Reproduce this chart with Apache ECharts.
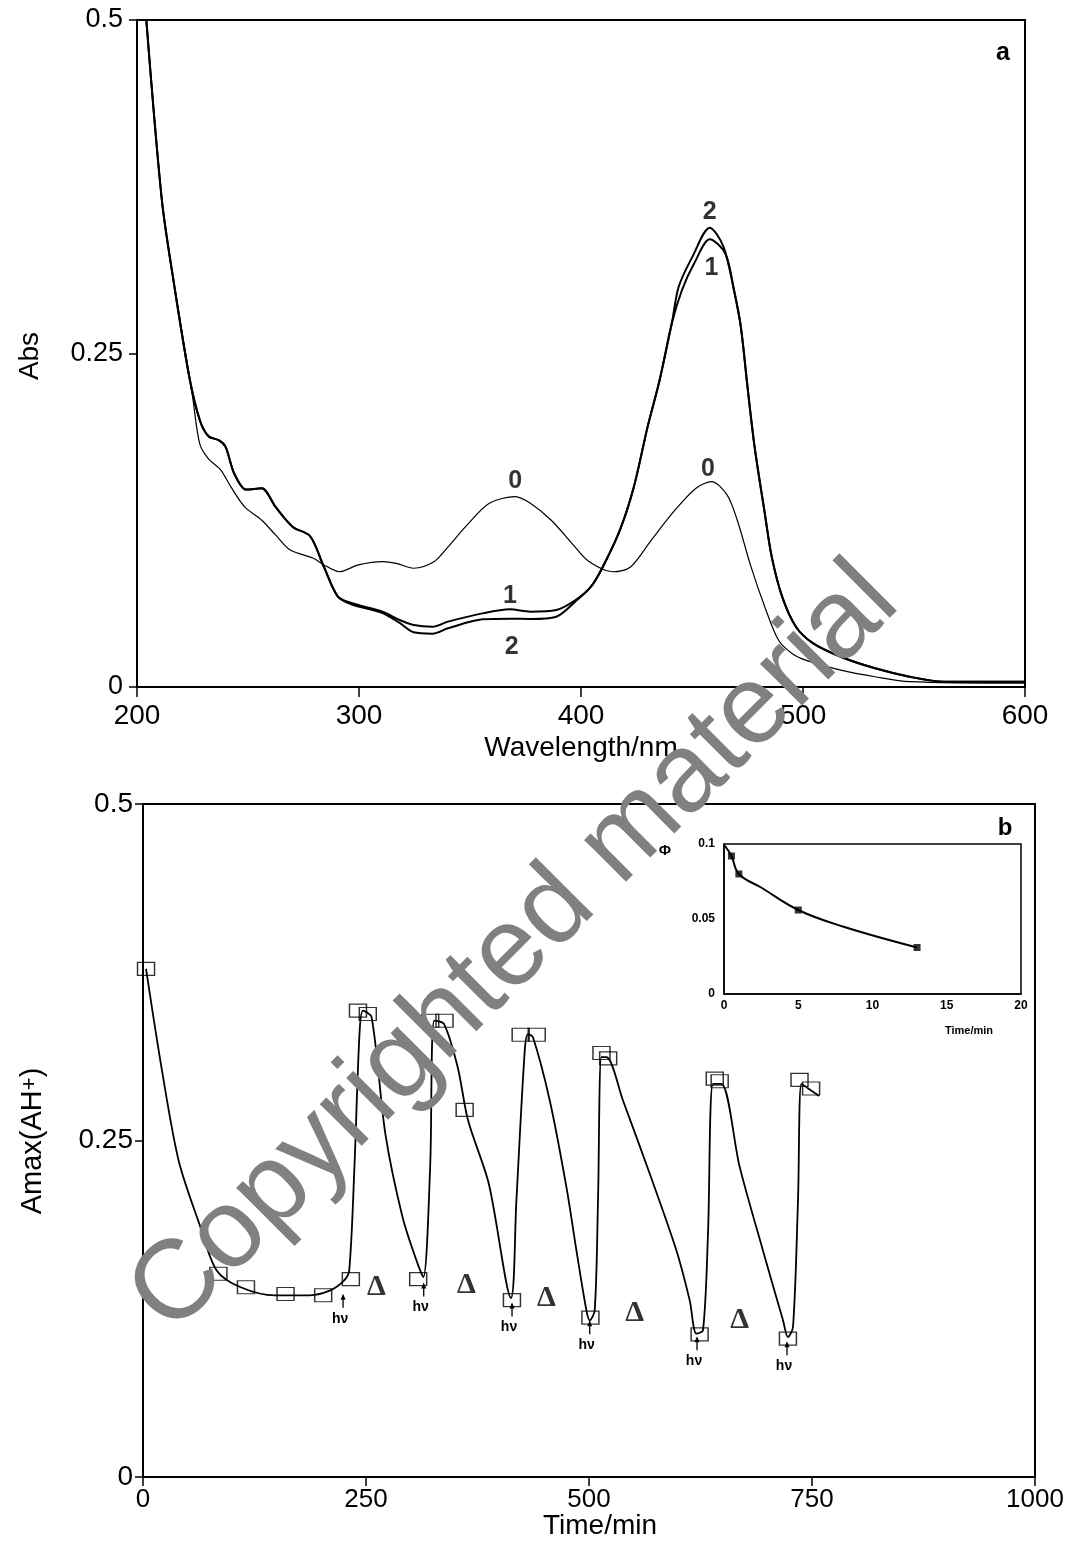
<!DOCTYPE html>
<html>
<head>
<meta charset="utf-8">
<script src="https://cdn.jsdelivr.net/npm/echarts@6/dist/echarts.min.js"></script>
<style>
  html, body { margin: 0; padding: 0; background: #fff; }
  #chart { width: 1070px; height: 1554px; }
</style>
</head>
<body>
<div id="chart"></div>
<script>
// ---- panel a: absorption spectra (wavelength in nm, absorbance) ----
const wl0 = [204.2, 211.2, 216.6, 222.9, 225.0, 228.3, 232.2, 237.6, 242.3, 248.5, 256.2, 262.4, 268.7, 274.9, 279.5, 284.2, 291.2, 299.7, 310.6, 316.8, 324.6, 333.9, 340.1, 347.9, 358.7, 370.4, 377.2, 386.6, 395.9, 403.6, 414.5, 422.3, 431.6, 442.4, 451.8, 458.8, 465.8, 470.4, 476.6, 482.8, 489.0, 495.2, 501.5, 517.0, 532.5, 548.0, 600.0];
const abs0 = [0.500, 0.365, 0.303, 0.240, 0.218, 0.182, 0.171, 0.163, 0.150, 0.135, 0.125, 0.114, 0.103, 0.099, 0.0965, 0.0915, 0.0864, 0.0915, 0.094, 0.0927, 0.089, 0.094, 0.105, 0.120, 0.1377, 0.1427, 0.1377, 0.125, 0.1077, 0.094, 0.0864, 0.090, 0.110, 0.1327, 0.149, 0.154, 0.144, 0.125, 0.090, 0.060, 0.035, 0.025, 0.020, 0.0127, 0.0077, 0.004, 0.0028];

const wl1 = [204.2, 211.2, 216.6, 223.6, 228.3, 232.2, 236.8, 239.9, 243.8, 249.2, 256.2, 262.4, 270.2, 278.0, 284.2, 290.4, 296.6, 310.6, 318.3, 324.6, 333.1, 340.1, 355.6, 368.0, 377.2, 388.9, 397.4, 404.4, 409.8, 417.6, 423.8, 430.0, 435.4, 440.9, 445.5, 451.0, 458.0, 465.0, 468.9, 472.0, 475.0, 478.2, 482.8, 485.9, 490.6, 496.8, 504.6, 517.0, 532.5, 548.0, 563.6, 600.0];
const abs1 = [0.500, 0.365, 0.303, 0.232, 0.200, 0.188, 0.185, 0.180, 0.160, 0.148, 0.149, 0.135, 0.120, 0.113, 0.090, 0.068, 0.063, 0.0565, 0.0502, 0.0465, 0.0452, 0.049, 0.0552, 0.0582, 0.0565, 0.0577, 0.065, 0.075, 0.090, 0.118, 0.150, 0.195, 0.230, 0.2726, 0.2976, 0.3176, 0.3356, 0.325, 0.2976, 0.270, 0.225, 0.180, 0.130, 0.0977, 0.0677, 0.0452, 0.0327, 0.0227, 0.014, 0.0077, 0.004, 0.004];

const wl2 = [204.2, 211.2, 216.6, 223.6, 228.3, 232.2, 236.8, 239.9, 243.8, 249.2, 256.2, 262.4, 270.2, 278.0, 284.2, 290.4, 296.6, 310.6, 318.3, 324.6, 333.1, 340.1, 355.6, 368.0, 377.2, 388.9, 397.4, 404.4, 409.8, 417.6, 423.8, 430.0, 435.4, 440.9, 444.0, 450.2, 458.0, 464.2, 468.9, 472.0, 475.0, 478.2, 482.8, 485.9, 490.6, 496.8, 504.6, 517.0, 532.5, 548.0, 563.6, 600.0];
const abs2 = [0.500, 0.365, 0.303, 0.232, 0.200, 0.188, 0.185, 0.180, 0.160, 0.148, 0.149, 0.135, 0.120, 0.113, 0.090, 0.068, 0.062, 0.0555, 0.048, 0.041, 0.040, 0.044, 0.0507, 0.0512, 0.051, 0.0527, 0.064, 0.075, 0.090, 0.118, 0.150, 0.195, 0.230, 0.2726, 0.300, 0.3226, 0.3443, 0.330, 0.2976, 0.270, 0.225, 0.180, 0.130, 0.0977, 0.0677, 0.0452, 0.0327, 0.0227, 0.014, 0.0077, 0.004, 0.004];

// curve numbers written on panel a: [nm, abs, text]
const specLabels = [[370.4, 0.154, '0'], [368.0, 0.068, '1'], [368.8, 0.030, '2'], [458.0, 0.356, '2'], [458.8, 0.314, '1'], [457.2, 0.163, '0']];

// ---- panel b: Amax(AH+) against time (min) ----
const sqTime = [3.4, 84.5, 115.4, 159.8, 202, 233, 241, 252, 308.5, 322, 338, 360.6, 413.6, 423.4, 441.4, 501.6, 514, 521.5, 624, 641, 646.5, 723, 736, 749];
const sqAbs = [0.3775, 0.151, 0.141, 0.136, 0.135, 0.147, 0.3465, 0.344, 0.147, 0.339, 0.339, 0.2728, 0.1314, 0.3286, 0.3286, 0.1184, 0.315, 0.311, 0.106, 0.296, 0.294, 0.1028, 0.295, 0.2886];

const curveTime = [3.4, 20.7, 40, 63.2, 82.6, 109.5, 148.2, 186.9, 210, 225.5, 231.2, 237, 242.7, 246.6, 256.3, 271.7, 291, 306.5, 314.2, 321.9, 326.6, 337.4, 352.8, 364.4, 387.6, 412.5, 418.6, 428, 431.6, 437.2, 456, 474.7, 485.9, 497.1, 500.8, 506.4, 510.1, 513.9, 519.5, 538.1, 568.1, 598, 612.9, 620.4, 627.8, 633.4, 639, 648.4, 669, 695, 717.5, 723, 728.7, 734.3, 738.1, 745, 758];
const curveAbs = [0.3775, 0.3044, 0.235, 0.188, 0.1535, 0.141, 0.135, 0.135, 0.1386, 0.146, 0.1535, 0.230, 0.329, 0.3465, 0.3415, 0.255, 0.193, 0.161, 0.1485, 0.230, 0.339, 0.3366, 0.3044, 0.265, 0.218, 0.133, 0.2055, 0.317, 0.329, 0.3267, 0.2797, 0.2153, 0.1683, 0.1238, 0.1164, 0.1238, 0.2054, 0.3119, 0.3119, 0.2797, 0.2253, 0.1683, 0.1312, 0.1065, 0.109, 0.1807, 0.2921, 0.2921, 0.2302, 0.1683, 0.1164, 0.104, 0.1114, 0.2054, 0.2921, 0.289, 0.283];

// irradiation marks (arrow tip) and thermal steps
const hvTime = [224.3, 314.7, 413.7, 500.8, 621.1, 722];
const hvAbs = [0.1361, 0.1445, 0.1297, 0.1164, 0.1045, 0.1008];
const deltaTime = [261.7, 362.6, 452.2, 551.2, 669];
const deltaAbs = [0.1411, 0.1423, 0.1325, 0.1213, 0.1163];

// inset: quantum yield vs time
const insetTime = [0.5, 1, 5, 13];
const insetPhi = [0.092, 0.080, 0.056, 0.031];
const insetCurveTime = [0.05, 0.5, 1, 2.5, 5, 8, 13];
const insetCurvePhi = [0.099, 0.092, 0.080, 0.071, 0.056, 0.045, 0.031];

const zip = (a, b) => a.map((v, i) => [v, b[i]]);
const FONT = 'Liberation Sans';

const chart = echarts.init(document.getElementById('chart'));

const axisCommon = {
  axisLine: { show: true, onZero: false, lineStyle: { color: '#000', width: 2 } },
  axisTick: { show: true, inside: false, length: 8, lineStyle: { color: '#000', width: 1.5 } },
  splitLine: { show: false },
  axisLabel: { color: '#000', fontFamily: FONT, fontSize: 27, formatter: v => String(v) }
};

chart.setOption({
  animation: false,
  backgroundColor: '#fff',
  grid: [
    { left: 137, top: 20, width: 888, height: 667, show: true, borderColor: '#000', borderWidth: 2 },
    { left: 143, top: 804, width: 892, height: 673, show: true, borderColor: '#000', borderWidth: 2 },
    { left: 724, top: 844, width: 297, height: 150, show: true, borderColor: '#000', borderWidth: 1.5, backgroundColor: '#fff', z: 5 }
  ],
  xAxis: [
    Object.assign({}, axisCommon, { gridIndex: 0, type: 'value', min: 200, max: 600, interval: 100,
      axisTick: { show: true, length: 10, lineStyle: { color: '#000', width: 1.5 } },
      axisLabel: Object.assign({}, axisCommon.axisLabel, { margin: 15, fontSize: 28 }) }),
    Object.assign({}, axisCommon, { gridIndex: 1, type: 'value', min: 0, max: 1000, interval: 250,
      axisTick: { show: true, length: 9, lineStyle: { color: '#000', width: 1.5 } },
      axisLabel: Object.assign({}, axisCommon.axisLabel, { margin: 10, fontSize: 26 }) }),
    { gridIndex: 2, type: 'value', min: 0, max: 20, interval: 5, z: 6,
      axisLine: { show: true, onZero: false, lineStyle: { color: '#000', width: 1.5 } },
      axisTick: { show: false }, splitLine: { show: false },
      axisLabel: { color: '#000', fontFamily: FONT, fontSize: 12, fontWeight: 'bold', margin: 6 } }
  ],
  yAxis: [
    Object.assign({}, axisCommon, { gridIndex: 0, type: 'value', min: 0, max: 0.5, interval: 0.25,
      axisLabel: Object.assign({}, axisCommon.axisLabel, { margin: 14 }) }),
    Object.assign({}, axisCommon, { gridIndex: 1, type: 'value', min: 0, max: 0.5, interval: 0.25,
      axisLabel: Object.assign({}, axisCommon.axisLabel, { margin: 10, fontSize: 28 }) }),
    { gridIndex: 2, type: 'value', min: 0, max: 0.1, interval: 0.05, z: 6,
      axisLine: { show: true, onZero: false, lineStyle: { color: '#000', width: 1.5 } },
      axisTick: { show: false }, splitLine: { show: false },
      axisLabel: { color: '#000', fontFamily: FONT, fontSize: 12, fontWeight: 'bold', margin: 9 } }
  ],
  series: [
    { type: 'line', xAxisIndex: 0, yAxisIndex: 0, data: zip(wl0, abs0), smooth: 0.3, symbol: 'none',
      lineStyle: { color: '#000', width: 1.2 } },
    { type: 'line', xAxisIndex: 0, yAxisIndex: 0, data: zip(wl1, abs1), smooth: 0.3, symbol: 'none',
      lineStyle: { color: '#000', width: 2 } },
    { type: 'line', xAxisIndex: 0, yAxisIndex: 0, data: zip(wl2, abs2), smooth: 0.3, symbol: 'none',
      lineStyle: { color: '#000', width: 2 } },
    { type: 'scatter', xAxisIndex: 0, yAxisIndex: 0, data: specLabels, symbolSize: 0, silent: true,
      label: { show: true, position: 'inside', formatter: p => p.value[2], color: '#000',
        fontFamily: FONT, fontSize: 25, fontWeight: 'bold' } },

    { type: 'line', xAxisIndex: 1, yAxisIndex: 1, data: zip(curveTime, curveAbs), smooth: 0.3,
      symbol: 'none', lineStyle: { color: '#000', width: 1.8 } },
    { type: 'scatter', xAxisIndex: 1, yAxisIndex: 1, data: zip(sqTime, sqAbs), symbol: 'rect', symbolSize: [17, 13],
      itemStyle: { color: 'rgba(0,0,0,0)', borderColor: '#000', borderWidth: 1.3 } },
    { type: 'custom', xAxisIndex: 1, yAxisIndex: 1, data: zip(hvTime, hvAbs), silent: true,
      renderItem: (params, api) => {
        const p = api.coord([api.value(0), api.value(1)]);
        return { type: 'group', children: [
          { type: 'line', shape: { x1: p[0], y1: p[1] + 2, x2: p[0], y2: p[1] + 14 }, style: { stroke: '#000', lineWidth: 1.3 } },
          { type: 'polygon', shape: { points: [[p[0], p[1]], [p[0] - 2.5, p[1] + 6], [p[0] + 2.5, p[1] + 6]] }, style: { fill: '#000' } },
          { type: 'text', x: p[0] - 3, y: p[1] + 25, style: { text: 'hν', font: 'bold 14px ' + FONT,
            textAlign: 'center', textVerticalAlign: 'middle', fill: '#000' } }
        ] };
      } },
    { type: 'scatter', xAxisIndex: 1, yAxisIndex: 1, data: zip(deltaTime, deltaAbs), symbolSize: 0, silent: true,
      label: { show: true, position: 'inside', formatter: 'Δ', color: '#000',
        fontFamily: 'Liberation Serif', fontSize: 30, fontWeight: 'bold' } },

    { type: 'line', xAxisIndex: 2, yAxisIndex: 2, data: zip(insetCurveTime, insetCurvePhi), smooth: 0.4, symbol: 'none', z: 7,
      lineStyle: { color: '#000', width: 2 } },
    { type: 'scatter', xAxisIndex: 2, yAxisIndex: 2, data: zip(insetTime, insetPhi), symbol: 'rect', symbolSize: 7, z: 8,
      itemStyle: { color: '#000' } }
  ],
  graphic: [
    { type: 'text', x: 30, y: 356, rotation: Math.PI / 2,
      style: { text: 'Abs', font: '28px ' + FONT, fill: '#000', textAlign: 'center', textVerticalAlign: 'middle' } },
    { type: 'text', x: 581, y: 748,
      style: { text: 'Wavelength/nm', font: '28px ' + FONT, fill: '#000', textAlign: 'center', textVerticalAlign: 'middle' } },
    { type: 'text', x: 1003, y: 53,
      style: { text: 'a', font: 'bold 25px ' + FONT, fill: '#000', textAlign: 'center', textVerticalAlign: 'middle' } },
    { type: 'text', x: 33, y: 1141, rotation: Math.PI / 2,
      style: { text: '{m|Amax(AH}{s|+}{m|)}', fill: '#000', textAlign: 'center', textVerticalAlign: 'middle',
        rich: { m: { fontFamily: FONT, fontSize: 29, fill: '#000' },
                s: { fontFamily: FONT, fontSize: 22, verticalAlign: 'top', fill: '#000' } } } },
    { type: 'text', x: 600, y: 1526,
      style: { text: 'Time/min', font: '28px ' + FONT, fill: '#000', textAlign: 'center', textVerticalAlign: 'middle' } },
    { type: 'text', x: 1005, y: 828,
      style: { text: 'b', font: 'bold 24px ' + FONT, fill: '#000', textAlign: 'center', textVerticalAlign: 'middle' } },
    { type: 'text', x: 665, y: 851, z: 10,
      style: { text: 'Φ', font: 'bold 15px ' + FONT, fill: '#000', textAlign: 'center', textVerticalAlign: 'middle' } },
    { type: 'text', x: 969, y: 1031, z: 10,
      style: { text: 'Time/min', font: 'bold 11px ' + FONT, fill: '#000', textAlign: 'center', textVerticalAlign: 'middle' } },
    { type: 'text', x: 515, y: 949, rotation: Math.PI / 4, z: 100,
      style: { text: 'Copyrighted material', font: '112px ' + FONT, fill: '#808080', textAlign: 'center', textVerticalAlign: 'middle' } }
  ]
});
</script>
</body>
</html>
